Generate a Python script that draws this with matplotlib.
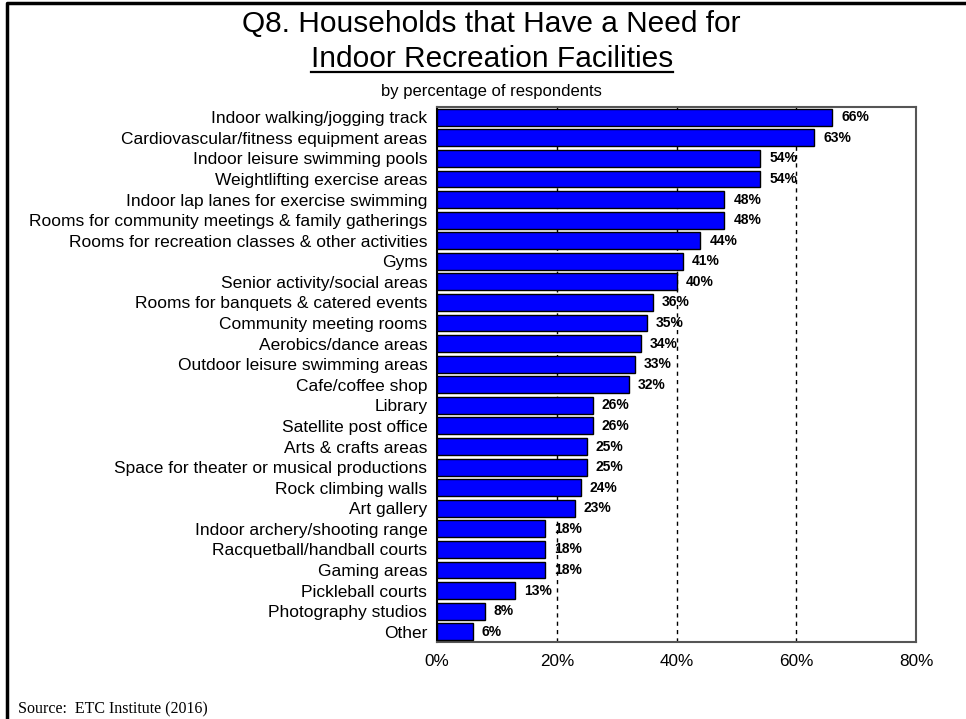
import matplotlib.pyplot as plt
from matplotlib.lines import Line2D

plt.rcParams['font.family'] = ['Liberation Sans', 'DejaVu Sans']

categories = [
    "Indoor walking/jogging track",
    "Cardiovascular/fitness equipment areas",
    "Indoor leisure swimming pools",
    "Weightlifting exercise areas",
    "Indoor lap lanes for exercise swimming",
    "Rooms for community meetings & family gatherings",
    "Rooms for recreation classes & other activities",
    "Gyms",
    "Senior activity/social areas",
    "Rooms for banquets & catered events",
    "Community meeting rooms",
    "Aerobics/dance areas",
    "Outdoor leisure swimming areas",
    "Cafe/coffee shop",
    "Library",
    "Satellite post office",
    "Arts & crafts areas",
    "Space for theater or musical productions",
    "Rock climbing walls",
    "Art gallery",
    "Indoor archery/shooting range",
    "Racquetball/handball courts",
    "Gaming areas",
    "Pickleball courts",
    "Photography studios",
    "Other",
]
values = [66, 63, 54, 54, 48, 48, 44, 41, 40, 36, 35, 34, 33, 32,
          26, 26, 25, 25, 24, 23, 18, 18, 18, 13, 8, 6]
xticks = [0, 20, 40, 60, 80]
xtick_labels = ["0%", "20%", "40%", "60%", "80%"]

fig = plt.figure(figsize=(9.66, 7.19), dpi=100)
ax = fig.add_axes([0.4524, 0.1071, 0.4959, 0.7441])

ypos = list(range(len(categories)))
ax.barh(ypos, values, height=0.82, color='#0000FF', edgecolor='black',
        linewidth=1.0, zorder=3)

for y, v in zip(ypos, values):
    ax.text(v + 1.5, y, f"{v}%", va='center', ha='left', fontsize=10,
            fontweight='bold', zorder=4)

for g in xticks[1:-1]:
    ax.axvline(g, color='black', linestyle=(0, (3, 3)), linewidth=1.0, zorder=1)

ax.set_xlim(0, 80)
ax.set_ylim(len(categories) - 0.5, -0.5)
ax.set_yticks(ypos)
ax.set_yticklabels(categories, fontsize=12.5)
ax.set_xticks(xticks)
ax.set_xticklabels(xtick_labels, fontsize=12.3)
ax.tick_params(axis='both', length=0)
ax.tick_params(axis='y', pad=7)
ax.tick_params(axis='x', pad=9)
for side in ['top', 'right', 'bottom']:
    ax.spines[side].set_color('#555555')
    ax.spines[side].set_linewidth(1.5)
ax.spines['left'].set_color('black')
ax.spines['left'].set_linewidth(1.5)

fig.text(0.509, 0.966, "Q8. Households that Have a Need for", ha='center',
         va='center', fontsize=21.5)
sub = fig.text(0.509, 0.918, "Indoor Recreation Facilities", ha='center',
               va='center', fontsize=21.5)
fig.text(0.509, 0.873, "by percentage of respondents", ha='center',
         va='center', fontsize=12)
fig.text(0.019, 0.002, "Source:  ETC Institute (2016)", ha='left',
         va='bottom', fontsize=11.5, family='Liberation Serif')

# underline the second title line
fig.canvas.draw()
bb = sub.get_window_extent().transformed(fig.transFigure.inverted())
fig.add_artist(Line2D([bb.x0, bb.x1], [bb.y0 + 0.002, bb.y0 + 0.002],
                      color='black', linewidth=1.6, transform=fig.transFigure))

# page border on the left and top
fig.add_artist(Line2D([0.0072, 0.0072, 1.0], [0.0, 0.9958, 0.9958],
                      color='black', linewidth=2.5, transform=fig.transFigure))

fig.savefig('out.png', dpi=100, facecolor='white')
